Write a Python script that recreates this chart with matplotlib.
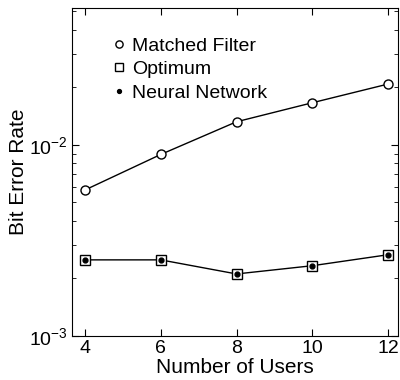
import matplotlib.pyplot as plt
import numpy as np

plt.rcParams['font.family'] = ['Liberation Sans', 'DejaVu Sans']

users = [4, 6, 8, 10, 12]
matched_filter = [5.8e-3, 8.9e-3, 1.32e-2, 1.66e-2, 2.08e-2]
optimum = [2.5e-3, 2.5e-3, 2.11e-3, 2.33e-3, 2.66e-3]
neural_network = [2.5e-3, 2.5e-3, 2.11e-3, 2.33e-3, 2.66e-3]

fig = plt.figure(figsize=(4, 3.8), dpi=100)
ax = fig.add_axes([0.18, 0.116, 0.815, 0.863])

ax.plot(users, matched_filter, color="k", lw=1)
ax.plot(users, optimum, color="k", lw=1)
h1, = ax.plot(users, matched_filter, "o", mfc="white", mec="k", ms=6.5, mew=1, ls="none", label="Matched Filter")
h2, = ax.plot(users, optimum, "s", mfc="white", mec="k", ms=7, mew=1, ls="none", label="Optimum")
h3, = ax.plot(users, neural_network, "o", mfc="k", mec="k", ms=3.5, ls="none", label="Neural Network")

ax.set_yscale("log")
ax.set_xlim(3.66, 12.26)
ax.set_ylim(1e-3, 5.2e-2)
ax.set_xticks(users)
ax.tick_params(which="both", direction="in", top=True, right=True, labelsize=14)
ax.tick_params(which="major", length=5, pad=3)
ax.tick_params(which="minor", length=3)
ax.set_xlabel("Number of Users", fontsize=15, labelpad=1)
ax.set_ylabel("Bit Error Rate", fontsize=15, labelpad=1)

leg = ax.legend(handles=[h1, h2, h3], loc="upper left", bbox_to_anchor=(0.105, 0.935),
                frameon=False, fontsize=14, handlelength=0.5, handletextpad=0.45,
                labelspacing=0.3, markerscale=0.8, borderaxespad=0)

fig.savefig("out.png", dpi=100)
